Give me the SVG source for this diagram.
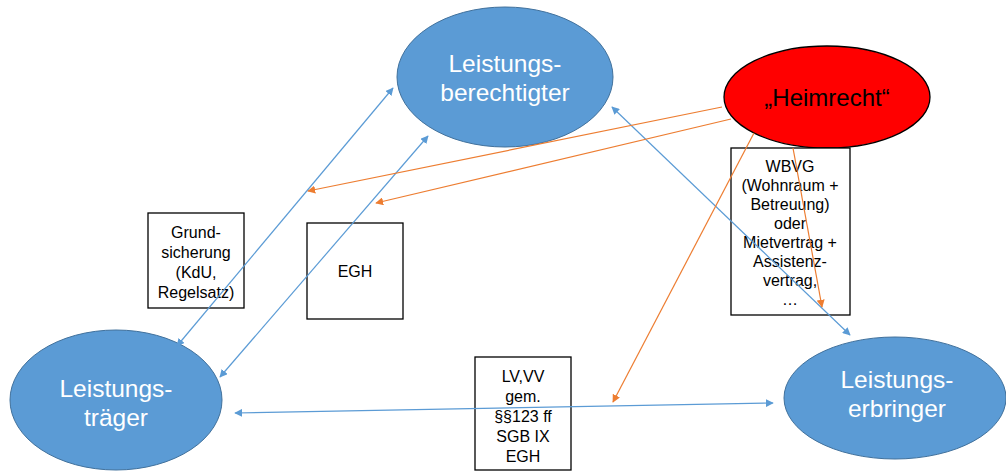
<svg xmlns="http://www.w3.org/2000/svg" width="1006" height="471" viewBox="0 0 1006 471">
<style>
.blue{fill:#5B9BD5;stroke:#41719C;stroke-width:1}
.wt{fill:#fff;font-family:"Liberation Sans",Arial,sans-serif;font-size:24.5px;text-anchor:middle}
.bt{fill:#000;font-family:"Liberation Sans",Arial,sans-serif;font-size:16px;text-anchor:middle}
.box{fill:#fff;stroke:#000;stroke-width:1.3}
.cb{stroke:#5B9BD5;stroke-width:1.2;fill:none}
.co{stroke:#ED7D31;stroke-width:1.2;fill:none}
</style>
<defs>
<marker id="ab" viewBox="0 0 10 10" refX="9" refY="5" markerWidth="8" markerHeight="8" orient="auto-start-reverse" markerUnits="userSpaceOnUse"><path d="M0,0L10,5L0,10z" fill="#5B9BD5"/></marker>
<marker id="ao" viewBox="0 0 10 10" refX="9" refY="5" markerWidth="8" markerHeight="8" orient="auto" markerUnits="userSpaceOnUse"><path d="M0,0L10,5L0,10z" fill="#ED7D31"/></marker>
</defs>
<rect width="1006" height="471" fill="#fff"/>
<g id="n-berechtigter">
<ellipse class="blue" cx="505" cy="77" rx="108" ry="70"/>
<text class="wt" x="505" y="72">Leistungs-</text>
<text class="wt" x="505" y="101">berechtigter</text>
</g>
<g id="n-heimrecht">
<ellipse cx="827" cy="97" rx="103" ry="51" fill="#FF0000" stroke="#000" stroke-width="1.3"/>
<text x="827" y="106" fill="#000" font-family="Liberation Sans,Arial,sans-serif" font-size="24" text-anchor="middle">„Heimrecht“</text>
</g>
<g id="n-traeger">
<ellipse class="blue" cx="116" cy="400" rx="106" ry="70"/>
<text class="wt" x="116" y="397">Leistungs-</text>
<text class="wt" x="116" y="426">träger</text>
</g>
<g id="n-erbringer">
<ellipse class="blue" cx="895" cy="398" rx="111" ry="61"/>
<text class="wt" x="897" y="388">Leistungs-</text>
<text class="wt" x="897" y="417">erbringer</text>
</g>
<g id="n-grundsicherung">
<rect class="box" x="148" y="213" width="96" height="95"/>
<text class="bt" x="196" y="238">Grund-</text>
<text class="bt" x="196" y="258">sicherung</text>
<text class="bt" x="196" y="278">(KdU,</text>
<text class="bt" x="196" y="298">Regelsatz)</text>
</g>
<g id="n-egh">
<rect class="box" x="307" y="223" width="96" height="96"/>
<text class="bt" x="355" y="277">EGH</text>
</g>
<g id="n-wbvg">
<rect class="box" x="731" y="148" width="119" height="167"/>
<text class="bt" x="790" y="172">WBVG</text>
<text class="bt" x="790" y="191">(Wohnraum +</text>
<text class="bt" x="790" y="210">Betreuung)</text>
<text class="bt" x="790" y="229">oder</text>
<text class="bt" x="790" y="248">Mietvertrag +</text>
<text class="bt" x="790" y="267">Assistenz-</text>
<text class="bt" x="790" y="286">vertrag,</text>
<text class="bt" x="790" y="305">…</text>
</g>
<g id="n-lv">
<rect class="box" x="475" y="357" width="96" height="113"/>
<text class="bt" x="523" y="382">LV,VV</text>
<text class="bt" x="523" y="402">gem.</text>
<text class="bt" x="523" y="422">§§123 ff</text>
<text class="bt" x="523" y="442">SGB IX</text>
<text class="bt" x="523" y="462">EGH</text>
</g>
<g id="connectors">
<line class="cb" x1="235" y1="413" x2="773" y2="403" marker-start="url(#ab)" marker-end="url(#ab)"/>
<line class="cb" x1="177" y1="346" x2="393" y2="88" marker-start="url(#ab)" marker-end="url(#ab)"/>
<line class="cb" x1="220" y1="377" x2="428" y2="136" marker-start="url(#ab)" marker-end="url(#ab)"/>
<line class="cb" x1="612" y1="107" x2="850" y2="335" marker-start="url(#ab)" marker-end="url(#ab)"/>
<line class="co" x1="722" y1="107" x2="308" y2="191" marker-end="url(#ao)"/>
<line class="co" x1="731" y1="119" x2="376" y2="203" marker-end="url(#ao)"/>
<line class="co" x1="754" y1="133" x2="613" y2="402" marker-end="url(#ao)"/>
<line class="co" x1="793" y1="148" x2="822" y2="307" marker-end="url(#ao)"/>
</g>
</svg>
